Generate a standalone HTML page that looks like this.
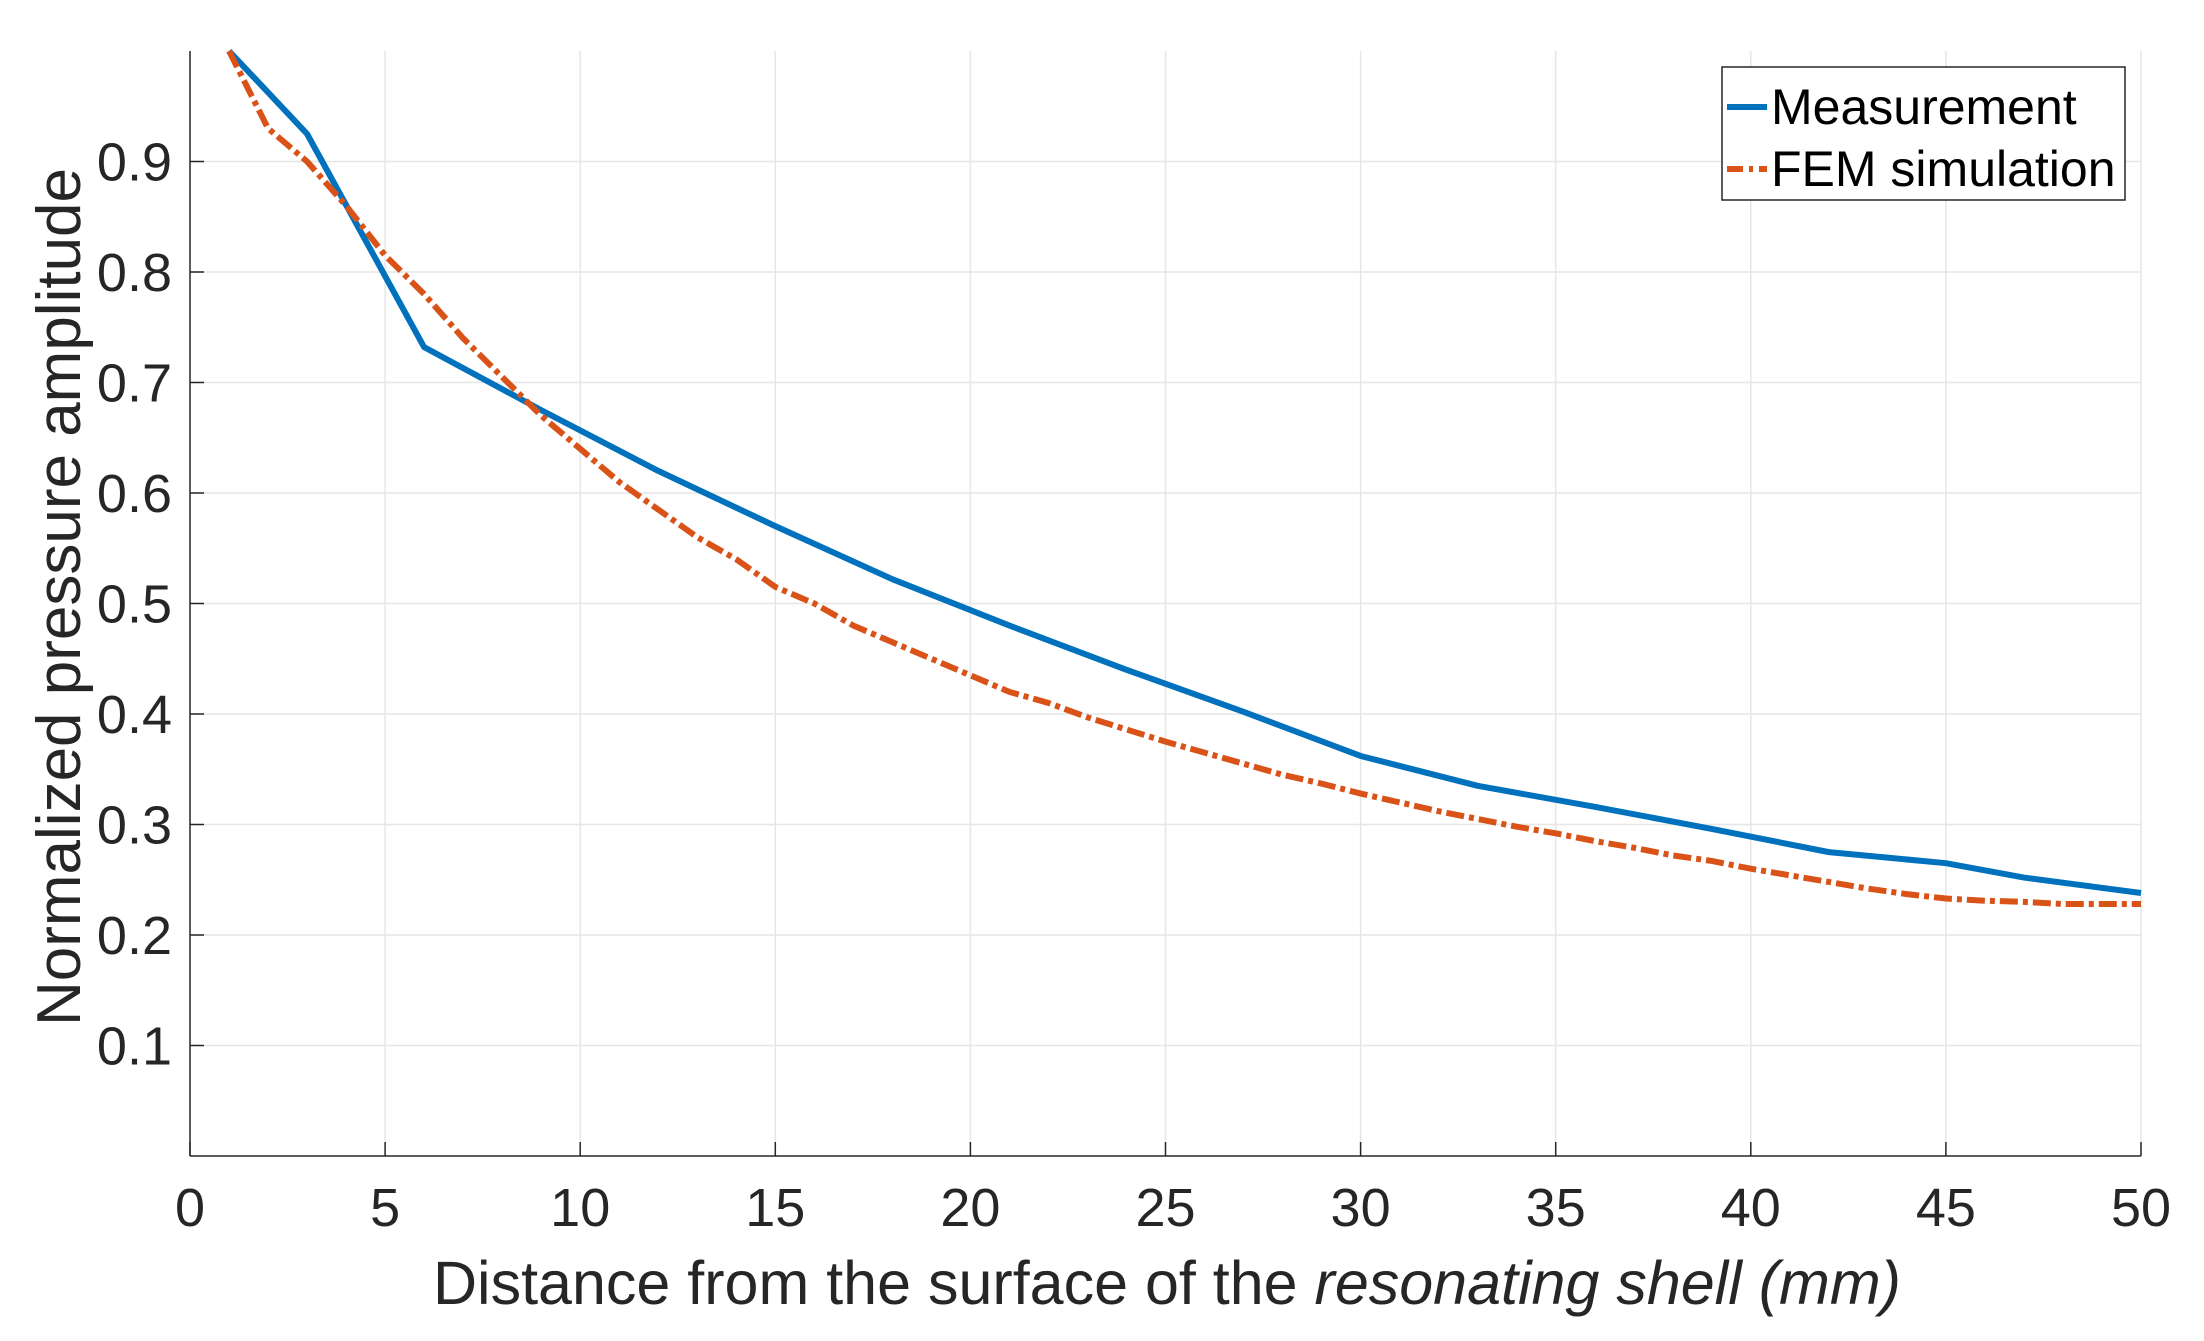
<!DOCTYPE html>
<html><head><meta charset="utf-8"><style>
html,body{margin:0;padding:0;background:#fff;}
svg{display:block;font-family:"Liberation Sans",Arial,sans-serif;}
</style></head><body>
<svg id="chart" width="2204" height="1341" viewBox="0 0 2204 1341">
<rect x="0" y="0" width="2204" height="1341" fill="#fff"/>
<g id="grid"></g>
<g id="axes"></g>
<g id="series"></g>
<text x="1167" y="1304" font-size="61" text-anchor="middle" fill="#262626">Distance from the surface of the <tspan font-style="italic">resonating shell (mm)</tspan></text>
<text transform="translate(80,597) rotate(-90)" font-size="62" text-anchor="middle" fill="#262626">Normalized pressure amplitude</text>
<g>
<rect x="1722" y="67" width="403" height="133" fill="#fff" stroke="#262626" stroke-width="1.5"/>
<line x1="1727" y1="107" x2="1767" y2="107" stroke="#0072BD" stroke-width="6"/>
<text x="1771" y="124" font-size="50" fill="#000">Measurement</text>
<line x1="1727" y1="169" x2="1767" y2="169" stroke="#D95319" stroke-width="6" stroke-dasharray="16,6,4,6"/>
<text x="1771" y="186" font-size="50" fill="#000">FEM simulation</text>
</g>
</svg>
<script>
const xTicks=[0,5,10,15,20,25,30,35,40,45,50];
const yTicks=[0.1,0.2,0.3,0.4,0.5,0.6,0.7,0.8,0.9];
const yTickLabels=["0.1","0.2","0.3","0.4","0.5","0.6","0.7","0.8","0.9"];
const measX=[1,3,6,9,12,15,18,21,24,27,30,33,36,39,42,45,47,50];
const measY=[1.0,0.925,0.732,0.675,0.62,0.57,0.522,0.48,0.44,0.402,0.362,0.335,0.316,0.296,0.275,0.265,0.252,0.238];
const femX=[1,2,3,4,5,6,7,8,9,10,11,12,13,14,15,16,17,18,19,20,21,22,23,24,25,26,27,28,29,30,31,32,33,34,35,36,37,38,39,40,41,42,43,44,45,46,47,48,49,50];
const femY=[1.0,0.93,0.9,0.86,0.815,0.78,0.74,0.705,0.67,0.64,0.61,0.585,0.56,0.54,0.515,0.5,0.48,0.465,0.45,0.435,0.42,0.41,0.397,0.386,0.375,0.365,0.355,0.345,0.337,0.328,0.32,0.312,0.305,0.298,0.292,0.285,0.279,0.272,0.267,0.26,0.254,0.248,0.242,0.237,0.233,0.231,0.23,0.228,0.228,0.228];
const L=190,R=2141,T=51,B=1156;
function sx(v){return L+(v-0)/(50-0)*(R-L);}
function sy(v){return B-(v-0)/(1-0)*(B-T);}
const NS="http://www.w3.org/2000/svg";
function mk(tag,attrs,parent){const e=document.createElementNS(NS,tag);for(const k in attrs)e.setAttribute(k,attrs[k]);parent.appendChild(e);return e;}
const grid=document.getElementById('grid'),axes=document.getElementById('axes'),series=document.getElementById('series');
xTicks.forEach(t=>{
 if(t>0){const g=mk('line',{x1:sx(t),x2:sx(t),y1:T,y2:B,stroke:'#e6e6e6','stroke-width':1.5},grid);
 
 }
 const tk=mk('line',{x1:sx(t),x2:sx(t),y1:B,y2:B-14,stroke:'#262626','stroke-width':1.5},axes);
 
 
 const lb=mk('text',{x:sx(t),y:1226,'font-size':54,'text-anchor':'middle',fill:'#262626'},axes);
 lb.textContent=String(t);
 
 
});
yTicks.forEach((t,i)=>{
 const g=mk('line',{x1:L,x2:R,y1:sy(t),y2:sy(t),stroke:'#e6e6e6','stroke-width':1.5},grid);
 
 
 const tk=mk('line',{x1:L,x2:L+14,y1:sy(t),y2:sy(t),stroke:'#262626','stroke-width':1.5},axes);
 
 
 const lb=mk('text',{x:172,y:sy(t)+19,'font-size':54,'text-anchor':'end',fill:'#262626'},axes);
 lb.textContent=yTickLabels[i];
 
 
});
const xa=mk('line',{x1:L,x2:R,y1:B,y2:B,stroke:'#262626','stroke-width':1.5},axes);


const ya=mk('line',{x1:L,x2:L,y1:T,y2:B,stroke:'#262626','stroke-width':1.5},axes);


const m=mk('polyline',{points:measX.map((x,i)=>sx(x)+','+sy(measY[i])).join(' '),fill:'none',stroke:'#0072BD','stroke-width':6,'stroke-linejoin':'round'},series);


const f=mk('polyline',{points:femX.map((x,i)=>sx(x)+','+sy(femY[i])).join(' '),fill:'none',stroke:'#D95319','stroke-width':6,'stroke-dasharray':'18,5,5,5'},series);


</script>
</body></html>
